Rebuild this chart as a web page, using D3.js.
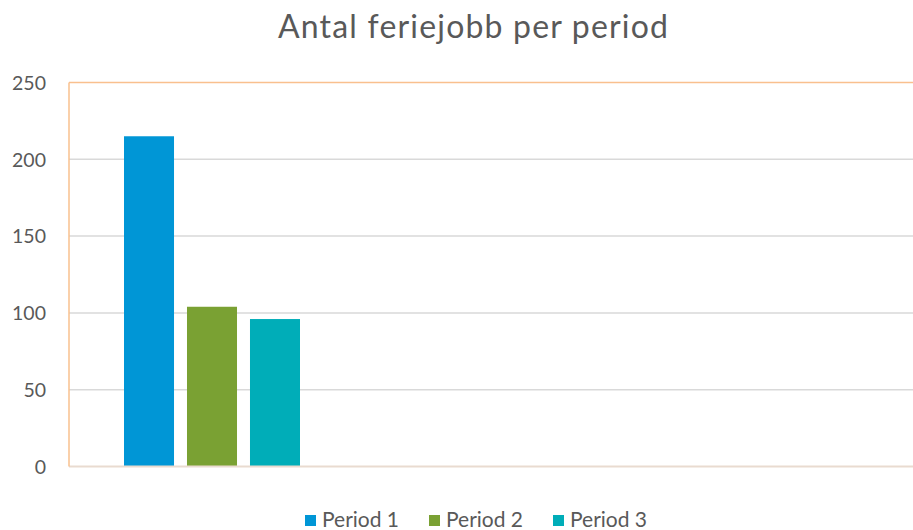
<!DOCTYPE html>
<html><head><meta charset="utf-8">
<script src="https://cdn.jsdelivr.net/npm/d3@7"></script>
<style>body{margin:0;background:#fff}svg{display:block}</style>
</head><body>
<svg id="c" width="913" height="530"></svg>
<script>
(function(){
const title = "Antal feriejobb per period";
const categories = ["Period 1", "Period 2", "Period 3"];
const values = [215, 104, 96];
const colors = ["#0096D6", "#7AA133", "#00ADB8"];
const yTicks = [0, 50, 100, 150, 200, 250];

const svg = d3.select("#c");
const font = "Lato, 'Open Sans', sans-serif";
const pLeft = 69, pRight = 913, pTop = 82.5, pBottom = 466.5;

const y = d3.scaleLinear().domain([0, 250]).range([pBottom, pTop]);
const x = d3.scaleBand().domain(categories).range([124, 300]).paddingInner(0.206);

svg.append("g").selectAll("line").data(yTicks.filter(t => t > 0 && t < 250)).join("line")
  .attr("x1", pLeft).attr("x2", pRight).attr("y1", d => y(d)).attr("y2", d => y(d))
  .attr("stroke", "#d9d9d9").attr("stroke-width", 1.5);

svg.append("line").attr("x1", pLeft).attr("x2", pRight).attr("y1", y(250)).attr("y2", y(250))
  .attr("stroke", "#F9C08E").attr("stroke-width", 1.5);

svg.append("g").selectAll("rect").data(values).join("rect")
  .attr("x", (d, i) => x(categories[i])).attr("width", x.bandwidth())
  .attr("y", d => y(d)).attr("height", d => y(0) - y(d))
  .attr("fill", (d, i) => colors[i]);

svg.append("line").attr("x1", pLeft).attr("x2", pRight).attr("y1", y(0)).attr("y2", y(0))
  .attr("stroke", "#E9DBD0").attr("stroke-width", 2);
svg.append("line").attr("x1", pLeft).attr("x2", pLeft).attr("y1", y(250)).attr("y2", y(0))
  .attr("stroke", "#F9C08E").attr("stroke-width", 1.5);

const yAxis = d3.axisLeft(y).tickValues(yTicks).tickSize(0).tickPadding(0);
const ga = svg.append("g").attr("transform", "translate(46,0)").call(yAxis);
ga.select(".domain").remove();
ga.selectAll("text").attr("font-family", font).attr("font-size", 19.5).attr("fill", "#595959").attr("dy", "0.35em");

svg.append("text").attr("x", 473).attr("y", 38).attr("text-anchor", "middle")
  .attr("font-family", font).attr("font-size", 32).attr("fill", "#595959")
  .attr("textLength", 390).attr("lengthAdjust", "spacing").text(title);

const legendX = [305, 429, 553];
const lg = svg.append("g").selectAll("g").data(categories).join("g")
  .attr("transform", (d, i) => `translate(${legendX[i]},515)`);
lg.append("rect").attr("width", 11).attr("height", 11).attr("fill", (d, i) => colors[i]);
lg.append("text").attr("x", 17).attr("y", 12).attr("font-family", font).attr("font-size", 21)
  .attr("fill", "#595959").text(d => d);
})();
</script>
</body></html>
